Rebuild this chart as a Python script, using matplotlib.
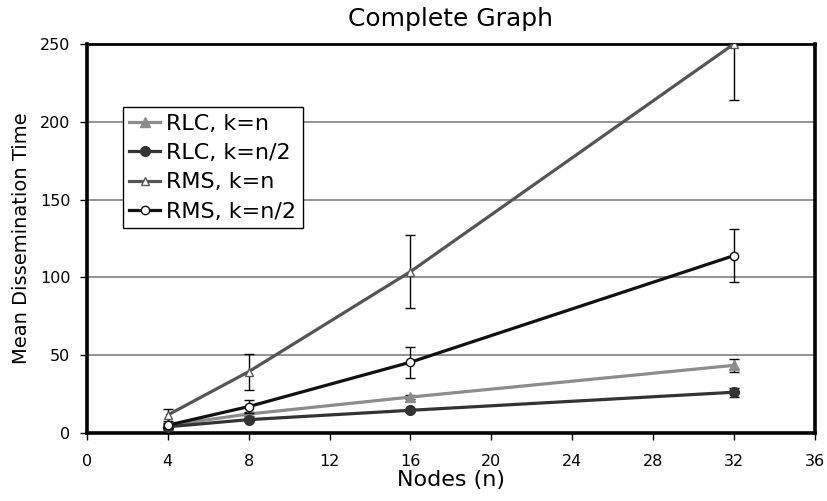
import matplotlib
matplotlib.use("Agg")
import matplotlib.pyplot as plt

# Data
nodes = [4, 8, 16, 32]

rlc_kn = [5, 12.2, 23.1, 43.5]
rlc_kn_err = [1, 1.5, 1.5, 4]

rlc_kn2 = [4, 8.6, 14.6, 26.2]
rlc_kn2_err = [0.5, 1, 1, 3]

rms_kn = [11.6, 39.4, 103.7, 250]
rms_kn_err = [4, 11.6, 23.3, 36]

rms_kn2 = [5, 17, 45.5, 114]
rms_kn2_err = [1.5, 4.4, 10, 17]

plt.rcParams['font.family'] = ['DejaVu Sans']

fig = plt.figure(figsize=(8.28, 5.01), dpi=100)
ax = fig.add_axes([0.105, 0.1357, 0.879, 0.7765])

err_kw = dict(ecolor='black', elinewidth=1, capsize=3.5, capthick=1)

ax.errorbar(nodes, rlc_kn, yerr=rlc_kn_err, color='#8c8c8c', lw=2.3,
            marker='^', ms=7, mfc='#8c8c8c', mec='#8c8c8c',
            label='RLC, k=n', zorder=3, **err_kw)
ax.errorbar(nodes, rlc_kn2, yerr=rlc_kn2_err, color='#333333', lw=2.3,
            marker='o', ms=7, mfc='#333333', mec='#333333',
            label='RLC, k=n/2', zorder=3, **err_kw)
ax.errorbar(nodes, rms_kn, yerr=rms_kn_err, color='#555555', lw=2.3,
            marker='^', ms=6, mfc='white', mec='#555555', mew=1,
            label='RMS, k=n', zorder=4, **err_kw)
ax.errorbar(nodes, rms_kn2, yerr=rms_kn2_err, color='#111111', lw=2.3,
            marker='o', ms=6, mfc='white', mec='#111111', mew=1,
            label='RMS, k=n/2', zorder=4, **err_kw)

ax.set_xlim(0, 36)
ax.set_ylim(0, 250)
ax.set_xticks(range(0, 37, 4))
ax.set_yticks(range(0, 251, 50))
ax.tick_params(axis='both', direction='out', length=5, width=1,
               labelsize=11.5)
ax.tick_params(axis='x', pad=10)
ax.tick_params(axis='y', pad=7)

ax.yaxis.grid(True, color='#808080', lw=1.2)
ax.set_axisbelow(True)

for side in ['left', 'bottom', 'right']:
    ax.spines[side].set_linewidth(2.6)
ax.spines['top'].set_linewidth(2)

ax.set_title('Complete Graph', fontsize=18, pad=13)
ax.set_xlabel('Nodes (n)', fontsize=16, labelpad=1)
ax.set_ylabel('Mean Dissemination Time', fontsize=14, labelpad=6)

# legend shows only the lines with markers, not the error bars
handles, labels = ax.get_legend_handles_labels()
handles = [h[0] for h in handles]
leg = ax.legend(handles, labels, loc='upper left',
                bbox_to_anchor=(0.049, 0.838), borderaxespad=0,
                fontsize=16, handlelength=1.4, handletextpad=0.25,
                labelspacing=0.42, borderpad=0.3,
                fancybox=False, framealpha=1)
leg.get_frame().set_edgecolor('black')
leg.get_frame().set_linewidth(1)

fig.savefig('out.png', dpi=100)
